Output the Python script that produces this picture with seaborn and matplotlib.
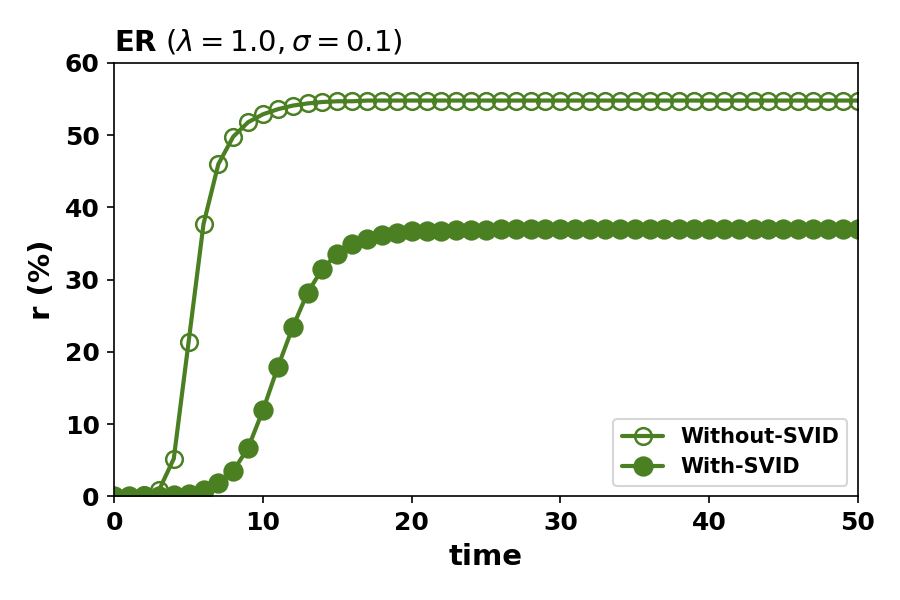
import pandas as pd
import matplotlib.pyplot as plt
import seaborn as sns

time = list(range(51))

without_svid = [0.0, 0.0, 0.1, 0.8, 5.2, 21.4, 37.7, 46.0, 49.8, 51.8,
                52.9, 53.6, 54.1, 54.4, 54.6, 54.7, 54.7, 54.8, 54.8, 54.8,
                54.8, 54.8, 54.8, 54.8, 54.8, 54.8, 54.8, 54.8, 54.8, 54.8,
                54.8, 54.8, 54.8, 54.8, 54.8, 54.8, 54.8, 54.8, 54.8, 54.8,
                54.8, 54.8, 54.8, 54.8, 54.8, 54.8, 54.8, 54.8, 54.8, 54.8,
                54.8]

with_svid = [0.0, 0.0, 0.0, 0.05, 0.1, 0.3, 0.8, 1.8, 3.5, 6.7,
             11.9, 17.9, 23.4, 28.2, 31.5, 33.6, 34.9, 35.6, 36.2, 36.5,
             36.7, 36.8, 36.8, 36.9, 36.9, 36.9, 37.0, 37.0, 37.0, 37.0,
             37.0, 37.0, 37.0, 37.0, 37.0, 37.0, 37.0, 37.0, 37.0, 37.0,
             37.0, 37.0, 37.0, 37.0, 37.0, 37.0, 37.0, 37.0, 37.0, 37.0,
             37.0]

df = pd.DataFrame({'time': time, 'Without-SVID': without_svid, 'With-SVID': with_svid})

color = '#4a7f22'

sns.set_style('ticks')
plt.rcParams['font.family'] = ['DejaVu Sans']
plt.rcParams.update({'text.color': 'black', 'axes.labelcolor': 'black',
                     'xtick.color': 'black', 'ytick.color': 'black',
                     'axes.edgecolor': 'black'})

fig, ax = plt.subplots(figsize=(6, 4), dpi=150)
fig.subplots_adjust(left=0.127, right=0.953, top=0.895, bottom=0.173)

sns.lineplot(data=df, x='time', y='Without-SVID', ax=ax, color=color, linewidth=2,
             marker='o', markersize=8, markerfacecolor='none', markeredgecolor=color,
             markeredgewidth=1.2, label='Without-SVID')
sns.lineplot(data=df, x='time', y='With-SVID', ax=ax, color=color, linewidth=2,
             marker='o', markersize=9, markerfacecolor=color, markeredgecolor=color,
             label='With-SVID')

ax.set_xlim(0, 50)
ax.set_ylim(0, 60)
ax.set_xticks([0, 10, 20, 30, 40, 50])
ax.set_yticks([0, 10, 20, 30, 40, 50, 60])
ax.tick_params(labelsize=12)
for lab in ax.get_xticklabels() + ax.get_yticklabels():
    lab.set_fontweight('bold')
ax.set_xlabel('time', fontsize=14, fontweight='bold')
ax.set_ylabel('r (%)', fontsize=14, fontweight='bold')
ax.set_title(r'$\mathbf{ER}$ $(\lambda = 1.0, \sigma = 0.1)$', loc='left', fontsize=14)

leg = ax.legend(loc='lower right', prop={'weight': 'bold', 'size': 10})

plt.savefig('out.png', dpi=150)
plt.close()
